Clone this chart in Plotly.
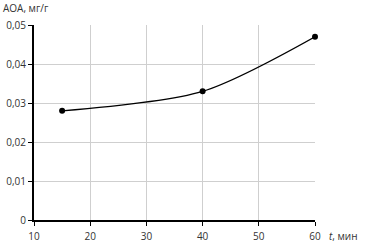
import plotly.graph_objects as go

time_min = [15, 40, 60]
aoa = [0.028, 0.033, 0.047]
x_ticks = [10, 20, 30, 40, 50, 60]
y_ticks = [0, 0.01, 0.02, 0.03, 0.04, 0.05]
y_tick_labels = ["0", "0,01", "0,02", "0,03", "0,04", "0,05"]

fig = go.Figure()
fig.add_trace(go.Scatter(
    x=time_min, y=aoa, mode="lines+markers",
    line=dict(color="black", width=1.3, shape="spline", smoothing=0.8),
    marker=dict(color="black", size=6),
    showlegend=False, cliponaxis=False,
))

font = dict(family="Open Sans, Liberation Sans, sans-serif", size=10, color="#333333")
fig.update_layout(
    width=369, height=244,
    margin=dict(l=34, r=54, t=25, b=24, autoexpand=False),
    plot_bgcolor="white", paper_bgcolor="white",
    font=font,
)
fig.update_xaxes(
    range=[10, 60], tickvals=x_ticks, ticktext=[str(v) for v in x_ticks],
    showgrid=True, gridcolor="#cfcfcf", gridwidth=1,
    showline=True, linecolor="black", linewidth=2,
    ticks="outside", ticklen=4, tickcolor="black", tickwidth=1,
    zeroline=False, automargin=False, ticklabelstandoff=2,
)
fig.update_yaxes(
    range=[0, 0.05], tickvals=y_ticks, ticktext=y_tick_labels,
    showgrid=True, gridcolor="#cfcfcf", gridwidth=1,
    showline=True, linecolor="black", linewidth=2,
    ticks="outside", ticklen=4, tickcolor="black", tickwidth=1,
    zeroline=False, automargin=False,
)
fig.add_annotation(text="АОА, мг/г", xref="paper", yref="paper",
                   x=-33/281, y=1 + 17/195, xanchor="left", yanchor="middle",
                   showarrow=False, font=font)
fig.add_annotation(text="<i>t</i>, мин", xref="paper", yref="paper",
                   x=1 + 12/281, y=-16/195, xanchor="left", yanchor="middle",
                   showarrow=False, font=font)
fig.write_html("out.html", config={"displayModeBar": False},
               post_script="document.body.style.margin='0';document.body.style.overflow='hidden';")
